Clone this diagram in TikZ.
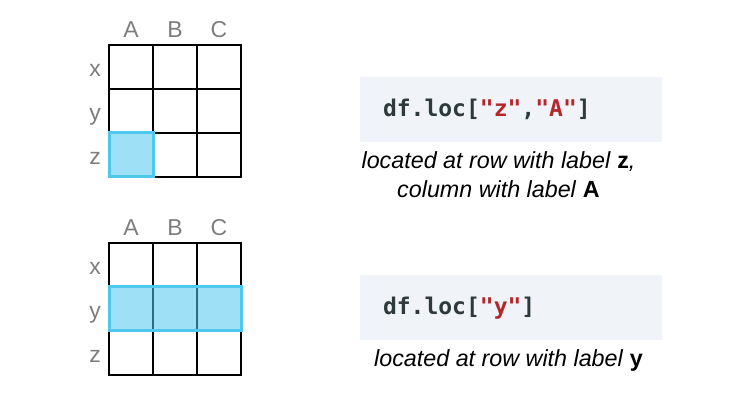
\documentclass[tikz,border=0pt]{standalone}
\usepackage{fontspec}
\setmainfont{Liberation Sans}
\newfontfamily\codefont{DejaVu Sans Mono}
\usepackage{tikz}
\usetikzlibrary{positioning}
\definecolor{hlblue}{RGB}{79,200,238}
\definecolor{codebg}{RGB}{240,243,247}
\definecolor{codegray}{RGB}{46,58,58}
\definecolor{codered}{RGB}{181,38,43}
\definecolor{lblgray}{RGB}{125,125,125}
\tikzset{
  cell/.style={draw=black,line width=2pt,minimum size=44pt,inner sep=0pt,outer sep=0pt},
  axlabel/.style={text=lblgray,font=\fontsize{23}{23}\selectfont,inner sep=0pt,anchor=base},
  hilite/.style={draw=hlblue,line width=3pt,fill=hlblue,fill opacity=0.55},
  codebox/.style={fill=codebg,minimum width=302pt,minimum height=65pt,inner sep=0pt},
  codetxt/.style={text=codegray,font=\codefont\bfseries\fontsize{23}{23}\selectfont,inner sep=0pt,anchor=base west},
  note/.style={font=\itshape\fontsize{23.3}{29}\selectfont,align=center,inner sep=0pt,anchor=base}
}
\newcommand{\red}[1]{\textcolor{codered}{#1}}
\begin{document}
\begin{tikzpicture}[x=1pt,y=-1pt]
		\useasboundingbox (0,0) rectangle (740,406);
		% top grid
		\foreach \r in {1,2,3}
		\foreach \c in {1,2,3}
		\node[cell] (t-\r-\c) at (109+44*\c-22,45+44*\r-22) {};
		\foreach \c/\l in {1/A,2/B,3/C}
		\node[axlabel] (tc-\c) at (109+44*\c-22,38) {\l};
		\foreach \r/\l in {1/x,2/y,3/z}
		\node[axlabel] (tr-\r) at (95,45+44*\r-12) {\l};
		\draw[hilite] (t-3-1.north west) rectangle (t-3-1.south east);
		% bottom grid
		\foreach \r in {1,2,3}
		\foreach \c in {1,2,3}
		\node[cell] (b-\r-\c) at (109+44*\c-22,243+44*\r-22) {};
		\foreach \c/\l in {1/A,2/B,3/C}
		\node[axlabel] (bc-\c) at (109+44*\c-22,236) {\l};
		\foreach \r/\l in {1/x,2/y,3/z}
		\node[axlabel] (br-\r) at (95,243+44*\r-12) {\l};
		\draw[hilite] (b-2-1.north west) rectangle (b-2-3.south east);
		% code and notes
		\node[codebox] (code1) at (511,109.5) {};
		\node[codetxt] (src1) at ([xshift=23pt,yshift=-7pt]code1.west) {df.loc[\red{"z"},\red{"A"}]};
		\node[note] (note1) at (498.5,198) {located at row with label \textup{\bfseries z},\\column with label \textup{\bfseries A}};
		\node[codebox] (code2) at (511,307.5) {};
		\node[codetxt] (src2) at ([xshift=23pt,yshift=-7pt]code2.west) {df.loc[\red{"y"}]};
		\node[note] (note2) at (508.5,367) {located at row with label \textup{\bfseries y}};
\end{tikzpicture}
\end{document}
